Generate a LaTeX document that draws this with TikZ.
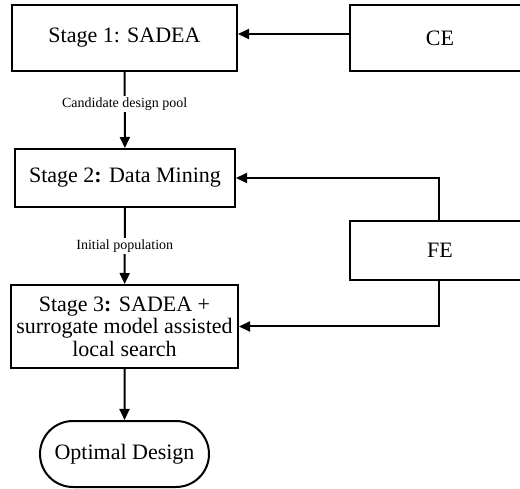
\documentclass[tikz,border=0pt]{standalone}
\usepackage{fontspec}
\setmainfont{Liberation Serif}
\usetikzlibrary{arrows.meta,shapes.misc}
\begin{document}
\begin{tikzpicture}[x=1pt,y=-1pt,
  box/.style={draw,line width=2pt,inner sep=0pt,align=center,font=\fontsize{22}{22.5}\selectfont},
  arr/.style={line width=2pt,-{Triangle[length=11pt,width=10pt]}},
  lab/.style={fill=white,inner sep=2pt,font=\fontsize{14}{15}\selectfont}]
\useasboundingbox (0,0) rectangle (520,489);
\clip (0,0) rectangle (520,489);
\node[box,minimum width=225pt,minimum height=66pt] (s1) at (124.5,38) {Stage 1: SADEA};
\node[box,minimum width=180pt,minimum height=66pt] (ce) at (440,38) {CE};
\node[box,minimum width=220pt,minimum height=58pt] (s2) at (125,178) {Stage 2\textbf{:} Data Mining};
\node[box,minimum width=180pt,minimum height=59pt] (fe) at (440,250.5) {FE};
\node[box,minimum width=227pt,minimum height=83pt] (s3) at (124.5,326.5) {Stage 3\textbf{:} SADEA +\\surrogate model assisted\\local search};
\node[box,rounded rectangle,minimum width=169pt,minimum height=66pt] (opt) at (124.5,454) {Optimal Design};
\draw[arr] ([yshift=4pt]ce.west) -- ([yshift=4pt]s1.east);
\draw[arr] (s1) -- node[lab,pos=0.42] {Candidate design pool} (s2);
\draw[arr] (s2) -- node[lab] {Initial population} (s3);
\draw[arr] ([xshift=-1pt]fe.north) |- (s2.east);
\draw[arr] ([xshift=-1pt]fe.south) |- (s3.east);
\draw[arr] (s3) -- (opt);
\end{tikzpicture}
\end{document}
